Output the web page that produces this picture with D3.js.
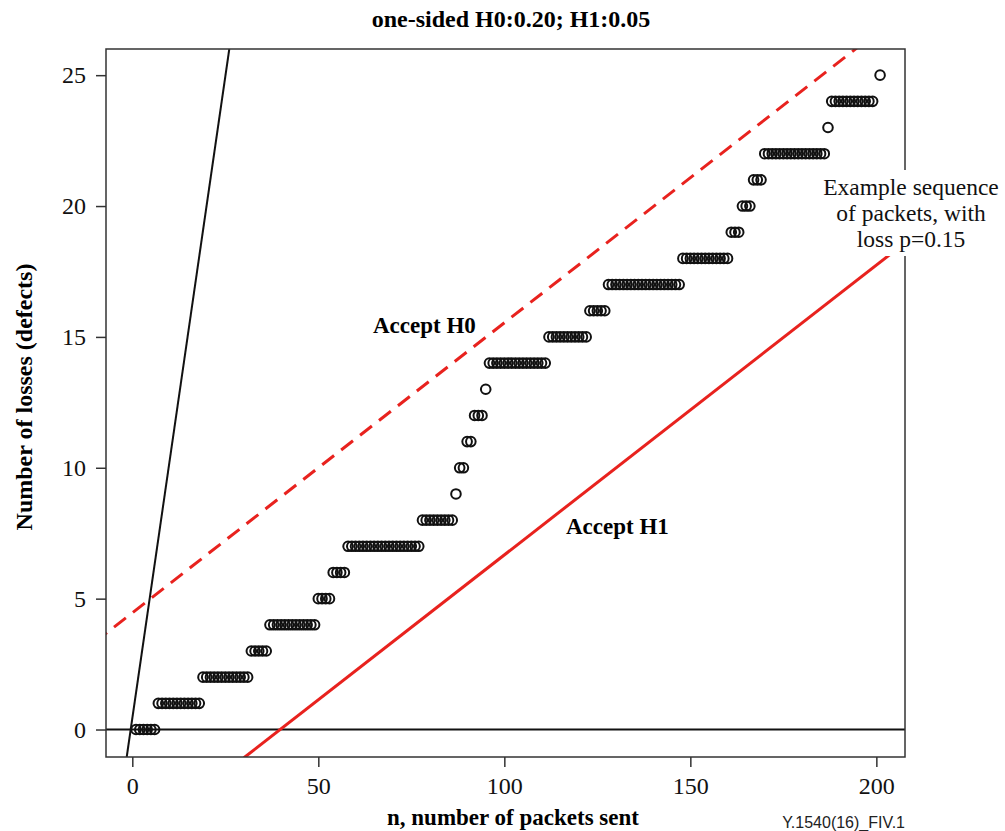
<!DOCTYPE html>
<html>
<head>
<meta charset="utf-8">
<script src="https://cdn.jsdelivr.net/npm/d3@7"></script>
<style>
  body { margin: 0; background: #fff; }
  text { font-family: "Liberation Serif", "Times New Roman", serif; }
</style>
</head>
<body>
<svg id="chart" width="1005" height="831"></svg>
<script>
// cumulative losses: each run is one loss level held over a range of packets
var lossLevels = [0, 1, 2, 3, 4, 5, 6, 7, 8, 9, 10, 11, 12, 13, 14, 15, 16, 17, 18, 19, 20, 21, 22, 23, 24, 25];
var runStart   = [1, 7, 19, 32, 37, 50, 54, 58, 78, 87, 88, 90, 92, 95, 96, 112, 123, 128, 148, 161, 164, 167, 170, 187, 188, 201];
var runEnd     = [6, 18, 31, 36, 49, 53, 57, 77, 86, 87, 89, 91, 94, 95, 111, 122, 127, 147, 160, 163, 166, 169, 186, 187, 199, 201];

var xTicks = [0, 50, 100, 150, 200];
var yTicks = [0, 5, 10, 15, 20, 25];

// boundary lines, endpoints in data units (n, losses)
var acceptH0Line = [[-10, 3.35], [210, 27.73]];
var acceptH1Line = [[30, -1.08], [210, 18.85]];
var steepLine = [[-1.5, -1.05], [26.07, 26]];

var margin = {left: 106, top: 49, right: 905, bottom: 757};

var svg = d3.select("#chart");

var x = d3.scaleLinear().domain([-7.07, 207.7]).range([margin.left, margin.right]);
var y = d3.scaleLinear().domain([-1.05, 26]).range([margin.bottom, margin.top]);

svg.append("defs").append("clipPath").attr("id", "plot")
  .append("rect")
  .attr("x", margin.left).attr("y", margin.top)
  .attr("width", margin.right - margin.left)
  .attr("height", margin.bottom - margin.top);

var points = [];
for (var i = 0; i < lossLevels.length; i++) {
  for (var n = runStart[i]; n <= runEnd[i]; n++) {
    points.push({n: n, loss: lossLevels[i]});
  }
}

// axes
var xAxis = svg.append("g")
  .attr("transform", "translate(0," + margin.bottom + ")")
  .call(d3.axisBottom(x).tickValues(xTicks).tickSize(10).tickPadding(10));
var yAxis = svg.append("g")
  .attr("transform", "translate(" + margin.left + ",0)")
  .call(d3.axisLeft(y).tickValues(yTicks).tickSize(10).tickPadding(10));
[xAxis, yAxis].forEach(function(a) {
  a.select(".domain").remove();
  a.selectAll("line").attr("stroke", "#333").attr("stroke-width", 1.5);
  a.selectAll("text")
    .attr("fill", "#111")
    .style("font-size", "24px")
    .style("font-family", "Liberation Serif, serif");
});

var plot = svg.append("g").attr("clip-path", "url(#plot)");

// zero line
plot.append("line")
  .attr("x1", margin.left).attr("x2", margin.right)
  .attr("y1", y(0)).attr("y2", y(0))
  .attr("stroke", "#111").attr("stroke-width", 2);

var line = d3.line()
  .x(function(d) { return x(d[0]); })
  .y(function(d) { return y(d[1]); });

plot.append("path").attr("d", line(steepLine))
  .attr("fill", "none").attr("stroke", "#111").attr("stroke-width", 2);

plot.append("path").attr("d", line(acceptH0Line))
  .attr("fill", "none").attr("stroke", "#e8221e").attr("stroke-width", 3)
  .attr("stroke-dasharray", "15,9");

plot.append("path").attr("d", line(acceptH1Line))
  .attr("fill", "none").attr("stroke", "#e8221e").attr("stroke-width", 3);

plot.selectAll("circle")
  .data(points)
  .enter()
  .append("circle")
  .attr("cx", function(d) { return x(d.n); })
  .attr("cy", function(d) { return y(d.loss); })
  .attr("r", 4.8)
  .attr("fill", "none")
  .attr("stroke", "#111")
  .attr("stroke-width", 2);

// frame
svg.append("rect")
  .attr("x", margin.left).attr("y", margin.top)
  .attr("width", margin.right - margin.left)
  .attr("height", margin.bottom - margin.top)
  .attr("fill", "none").attr("stroke", "#333").attr("stroke-width", 1.5);

// annotation box covers the frame edge
svg.append("rect")
  .attr("x", 815).attr("y", 170).attr("width", 190).attr("height", 86)
  .attr("fill", "#fff");
var note = svg.append("text")
  .attr("x", 911).attr("y", 195)
  .attr("text-anchor", "middle")
  .style("font-size", "23.5px").attr("fill", "#111");
["Example sequence", "of packets, with", "loss p=0.15"].forEach(function(t, i) {
  note.append("tspan").attr("x", 911).attr("dy", i === 0 ? 0 : 26).text(t);
});

// labels
svg.append("text")
  .attr("x", 511).attr("y", 27)
  .attr("text-anchor", "middle")
  .style("font-size", "24px").style("font-weight", "bold")
  .text("one-sided H0:0.20; H1:0.05");

svg.append("text")
  .attr("x", 513).attr("y", 825)
  .attr("text-anchor", "middle")
  .style("font-size", "23px").style("font-weight", "bold")
  .text("n, number of packets sent");

svg.append("text")
  .attr("transform", "translate(32,397) rotate(-90)")
  .attr("text-anchor", "middle")
  .style("font-size", "24px").style("font-weight", "bold")
  .text("Number of losses (defects)");

svg.append("text")
  .attr("x", 373).attr("y", 333)
  .style("font-size", "23px").style("font-weight", "bold")
  .text("Accept H0");

svg.append("text")
  .attr("x", 566).attr("y", 534)
  .style("font-size", "23px").style("font-weight", "bold")
  .text("Accept H1");

svg.append("text")
  .attr("x", 905).attr("y", 828)
  .attr("text-anchor", "end")
  .style("font-size", "16px")
  .style("font-family", "Liberation Sans, Arial, sans-serif")
  .attr("fill", "#222")
  .text("Y.1540(16)_FIV.1");
</script>
</body>
</html>
